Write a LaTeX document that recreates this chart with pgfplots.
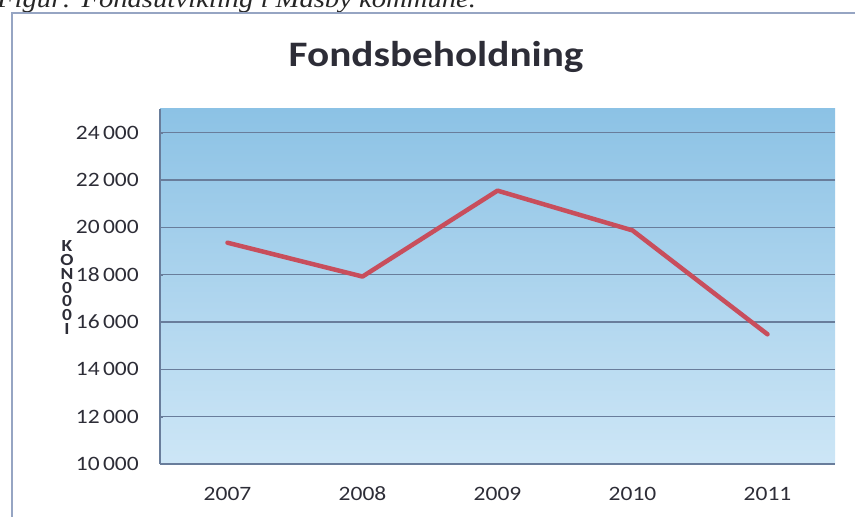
\documentclass[border=0pt]{standalone}
\usepackage{fontspec}
\usepackage{pgfplots}
\pgfplotsset{compat=1.18}
\setmainfont{Carlito}[FakeStretch=1.15]
\newfontfamily\capfont{Liberation Serif}[FakeStretch=1.15]
\definecolor{bgtop}{RGB}{140,194,229}
\definecolor{bgbot}{RGB}{205,230,246}
\definecolor{gridc}{RGB}{105,125,155}
\definecolor{linec}{RGB}{200,78,92}
\definecolor{framec}{RGB}{150,165,195}
\definecolor{txt}{RGB}{45,45,55}

\begin{document}
\begin{tikzpicture}
% cut-off caption above the frame
\begin{scope}
\clip (0,0) rectangle (855bp,517bp);
\node[anchor=base west, inner sep=0pt, font=\capfont\itshape\fontsize{25}{25}\selectfont, text=black!85]
  at (-3bp,509bp) {Figur: Fondsutvikling i Masby kommune.};
\end{scope}
% frame
\draw[framec, line width=1.2bp] (12bp,0) -- (12bp,504bp) -- (855bp,504bp);

\begin{axis}[
    at={(160bp,53bp)}, anchor=south west,
    width=675bp, height=355bp, scale only axis,
    xmin=0.5, xmax=5.5, ymin=10000, ymax=25000,
    xtick={1,2,3,4,5},
    xticklabels={2007,2008,2009,2010,2011},
    ytick={10000,12000,...,24000},
    scaled y ticks=false,
    /pgf/number format/fixed,
    /pgf/number format/1000 sep={\,},
    /pgf/number format/assume math mode=true,
    axis lines*=left,
    axis line style={gridc, line width=1.2bp},
    ymajorgrids,
    grid style={gridc, line width=1.2bp},
    major tick length=3bp,
    tick style={gridc},
    xtick style={draw=none},
    axis background/.style={shade, top color=bgtop, bottom color=bgbot},
    tick label style={font=\fontsize{20.5}{20.5}\selectfont, text=txt},
    yticklabel style={inner sep=0pt, xshift=-21bp},
    xticklabel style={inner sep=0pt, text height=14bp, text depth=0pt, anchor=north, yshift=-22bp},
    clip=false,
]
\addplot[linec, line width=4.5bp, line join=round, line cap=round] coordinates {
    (1,19350) (2,17920) (3,21550) (4,19870) (5,15480)
};
\end{axis}

\node[font=\bfseries\fontsize{36}{36}\selectfont, text=txt, anchor=base] at (436bp,450bp) {Fondsbeholdning};
\node[font=\bfseries\fontsize{17}{14}\selectfont, text=txt, align=center, anchor=north, inner sep=0pt]
  at (67bp,277bp) {K\\O\\N\\0\\0\\0\\I};

\pgfresetboundingbox
\useasboundingbox (0,0) rectangle (855bp,517bp);
\end{tikzpicture}
\end{document}
